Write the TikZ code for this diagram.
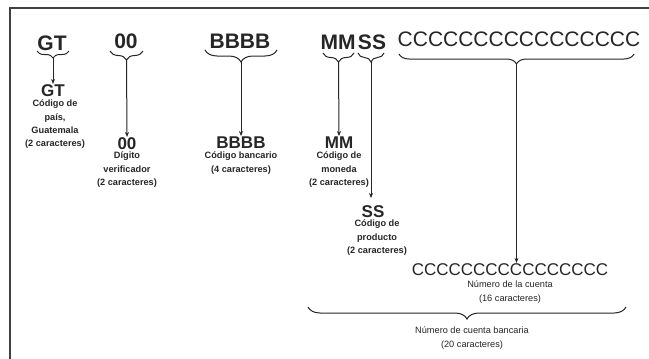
\documentclass[tikz,border=0pt]{standalone}
\usepackage{fontspec}
\setmainfont{Liberation Sans}
\usetikzlibrary{decorations.pathreplacing,arrows.meta}
\begin{document}
\begin{tikzpicture}[x=1pt,y=-1pt,
  ink/.style={black!85},
  toplbl/.style={font=\fontsize{21}{21}\selectfont\bfseries, inner sep=0pt, anchor=base, ink},
  toplight/.style={font=\fontsize{21}{21}\selectfont, inner sep=0pt, anchor=base, ink},
  codelbl/.style={font=\fontsize{17}{17}\selectfont\bfseries, inner sep=0pt, anchor=base, ink},
  codelight/.style={font=\fontsize{17}{17}\selectfont, inner sep=0pt, anchor=base, ink},
  desc/.style={font=\fontsize{9.2}{13.2}\selectfont\bfseries, align=center, inner sep=0pt, anchor=north, ink},
  descl/.style={font=\fontsize{9.2}{13.2}\selectfont, align=center, inner sep=0pt, anchor=north, ink},
  brc/.style={decorate, decoration={brace, mirror, amplitude=#1}, line width=1pt, ink},
  brc/.default=8,
  arr/.style={-{Stealth[length=5pt,width=4pt]}, line width=1pt, ink}
]
\useasboundingbox (0,0) rectangle (649,359);
\fill[white] (0,0) rectangle (649,359);
\draw[line width=1.2pt, black!75] (10,359) -- (10,8) -- (649,8);

% top row
\node[toplbl] (tGT) at (52,50) {GT};
\node[toplbl] (t00) at (126,48) {00};
\node[toplbl] (tB) at (240,48) {BBBB};
\node[toplbl] (tM) at (338,49) {MM};
\node[toplbl] (tS) at (372,49) {SS};
\node[toplight] (tC) at (519,46) {CCCCCCCCCCCCCCCC};

% braces
\draw[brc=7] (37,51) -- (69,51);
\coordinate (bGT) at (53,58);
\draw[brc=9] (110,51) -- (143,51);
\coordinate (b00) at (126.5,60);
\draw[brc=12] (205,50) -- (277,50);
\coordinate (bB) at (241,62);
\draw[brc=9] (323,53) -- (354,53);
\coordinate (bM) at (338.5,62);
\draw[brc=9] (358,53) -- (384,53);
\coordinate (bS) at (371,62);
\draw[brc=10] (399,54) -- (634,54);
\coordinate (bC) at (516.5,64);

% middle labels
\node[codelbl] (mGT) at (53,96) {GT};
\node[desc] (dGT) at (55,100) {Código de\\país,\\Guatemala\\(2 caracteres)};
\node[codelbl] (m00) at (127,149) {00};
\node[desc] (d00) at (127,152) {Dígito\\verificador\\(2 caracteres)};
\node[codelbl] (mB) at (241,148) {BBBB};
\node[desc] (dB) at (241,152) {Código bancario\\(4 caracteres)};
\node[codelbl] (mM) at (339,148) {MM};
\node[desc] (dM) at (339,152) {Código de\\moneda\\(2 caracteres)};
\node[codelbl] (mS) at (373,217) {SS};
\node[desc] (dS) at (377,220) {Código de\\producto\\(2 caracteres)};
\node[codelight] (mC) at (510,275) {CCCCCCCCCCCCCCCC};
\node[descl] (dC) at (510,281) {Número de la cuenta\\(16 caracteres)};

% arrows
\draw[arr] (bGT) -- (mGT.north);
\draw[arr] (b00) -- (m00.north);
\draw[arr] (bB) -- (mB.north);
\draw[arr] (bM) -- (mM.north);
\draw[arr] (bS) -- (371,198);
\draw[arr] (bC) -- (bC |- mC.north);

% bottom brace
\draw[brc=12] (308,307) -- (626,307);
\node[descl] (dT) at (472,327) {Número de cuenta bancaria\\(20 caracteres)};
\end{tikzpicture}
\end{document}
